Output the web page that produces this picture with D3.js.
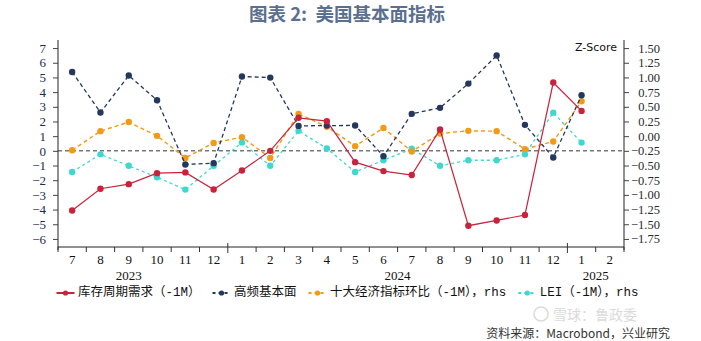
<!DOCTYPE html>
<html><head><meta charset="utf-8">
<script src="https://cdn.jsdelivr.net/npm/d3@7"></script>
<style>
html,body{margin:0;padding:0;background:#fff;}
svg{display:block;}
</style></head>
<body>
<svg id="chart" width="701" height="341"></svg>
<script>
// ---- data ----
const months = ["7","8","9","10","11","12","1","2","3","4","5","6","7","8","9","10","11","12","1","2"];
const years  = ["2023","2023","2023","2023","2023","2023","2024","2024","2024","2024","2024","2024","2024","2024","2024","2024","2024","2024","2025","2025"];
const yearLabels = ["2023","2024","2025"];
const inventoryDemand = [-4.06,-2.58,-2.27,-1.52,-1.47,-2.63,-1.34,0.0,2.25,2.02,-0.77,-1.38,-1.65,1.45,-5.10,-4.74,-4.37,4.65,2.72,null];
const highFreq = [5.37,2.61,5.13,3.45,-0.93,-0.84,5.06,4.99,1.70,1.72,1.73,-0.36,2.52,2.93,4.58,6.49,1.77,-0.45,3.79,null];
const top10MoM = [-0.24,0.085,0.24,0.005,-0.37,-0.115,-0.017,-0.37,0.38,0.16,-0.17,0.14,-0.26,0.045,0.09,0.085,-0.22,-0.09,0.595,null];
const lei = [-0.61,-0.31,-0.505,-0.70,-0.91,-0.505,-0.11,-0.505,0.09,-0.21,-0.61,-0.41,-0.215,-0.505,-0.41,-0.41,-0.31,0.40,-0.11,null];
const leftTicks = [7,6,5,4,3,2,1,0,-1,-2,-3,-4,-5,-6];
const rightTicks = [1.5,1.25,1,0.75,0.5,0.25,0,-0.25,-0.5,-0.75,-1,-1.25,-1.5,-1.75];
const seriesNames = ["库存周期需求（-1M）","高频基本面","十大经济指标环比（-1M），rhs","LEI（-1M），rhs"];
const titleText = "图表 2:  美国基本面指标";
const sourceText = "资料来源：Macrobond，兴业研究";

// ---- layout ----
const svg = d3.select("#chart");
const L = 58, R = 624, T = 40, B = 247;
const idx = months.map((d,i)=>i);
const x = d3.scaleBand().domain(idx).range([L,R]).paddingInner(0).paddingOuter(0);
const yL = d3.scaleLinear().domain([-6.55,7.55]).range([B,T]);
const yR = d3.scaleLinear().domain([-6.55/4-0.25, 7.55/4-0.25]).range([B,T]);
const cx = i => x(i) + x.bandwidth()/2;

const colors = {red:"#c8233c", navy:"#23385c", orange:"#f39a14", cyan:"#3fd8d0"};

// title
svg.append("text").attr("x",347).attr("y",13).attr("text-anchor","middle").attr("dominant-baseline","central")
  .style("white-space","pre")
  .attr("font-family","'Noto Sans CJK SC','Noto Sans',sans-serif").attr("font-weight","bold")
  .attr("font-size",18.5).attr("fill","#5b6f8f").text(titleText);

// left axis
const gL = svg.append("g").attr("transform",`translate(${L},0)`)
  .call(d3.axisLeft(yL).tickValues(leftTicks).tickSize(5).tickPadding(7).tickFormat(d3.format("d")));
gL.select(".domain").attr("d",`M0,${T}V${B+3}`).attr("stroke","#222");
gL.selectAll(".tick line").attr("stroke","#444");
gL.selectAll("text").attr("font-family","'Liberation Serif',serif").attr("font-size",13).attr("fill","#1b2b55");

// right axis
const gR = svg.append("g").attr("transform",`translate(${R},0)`)
  .call(d3.axisRight(yR).tickValues(rightTicks).tickSize(5).tickPadding(7).tickFormat(d3.format(".2f")));
gR.select(".domain").attr("d",`M0,${T}V${B+3}`).attr("stroke","#222");
gR.selectAll(".tick line").attr("stroke","#444");
gR.selectAll("text").attr("font-family","'Liberation Serif',serif").attr("font-size",12.5)
  .attr("fill","#2a2a2a").attr("text-anchor","end").attr("x",36);

// x axis
const gX = svg.append("g");
gX.append("line").attr("x1",L).attr("x2",R).attr("y1",B).attr("y2",B).attr("stroke","#222");
const edges = idx.map(i=>x(i)).concat([R]);
edges.forEach((e,k)=>{
  const isYear = k>0 && k<months.length && years[k]!==years[k-1];
  gX.append("line").attr("x1",e).attr("x2",e)
    .attr("y1",isYear?B-4:B).attr("y2",isYear?B+6:B+5).attr("stroke","#333");
});
gX.selectAll("text.m").data(idx).join("text").attr("class","m")
  .attr("x",i=>cx(i)).attr("y",264).attr("text-anchor","middle")
  .attr("font-family","'Liberation Serif',serif").attr("font-size",13).attr("fill","#111")
  .text(i=>months[i]);
yearLabels.forEach(yv=>{
  const ids = idx.filter(i=>years[i]===yv);
  // 2023 label sits under its 3rd month as in the source; others centred on their year span
  const pos = ids.length===6 ? cx(ids[2]) : (x(ids[0]) + x(ids[ids.length-1]) + x.bandwidth())/2;
  svg.append("text").attr("x",pos).attr("y",280).attr("text-anchor","middle")
    .attr("font-family","'Liberation Serif',serif").attr("font-size",13).attr("fill","#111").text(yv);
});

// zero line
svg.append("line").attr("x1",L).attr("x2",R).attr("y1",yL(0)).attr("y2",yL(0))
  .attr("stroke","#333").attr("stroke-dasharray","4,3");

// Z-Score
svg.append("text").attr("x",617).attr("y",51).attr("text-anchor","end")
  .attr("font-family","'DejaVu Sans',sans-serif").attr("font-size",11).attr("fill","#111").text("Z-Score");

// series
const series = [
  {vals:lei, y:yR, color:colors.cyan, dash:"3,3", w:1.3},
  {vals:top10MoM, y:yR, color:colors.orange, dash:"4,3", w:1.4},
  {vals:highFreq, y:yL, color:colors.navy, dash:"4,3", w:1.3},
  {vals:inventoryDemand, y:yL, color:colors.red, dash:null, w:1.2}
];
series.forEach(s=>{
  const pts = idx.filter(i=>s.vals[i]!=null);
  const line = d3.line().x(i=>cx(i)).y(i=>s.y(s.vals[i]));
  svg.append("path").attr("d",line(pts)).attr("fill","none").attr("stroke",s.color)
    .attr("stroke-width",s.w).attr("stroke-dasharray",s.dash);
  svg.selectAll(null).data(pts).join("circle").attr("cx",i=>cx(i)).attr("cy",i=>s.y(s.vals[i]))
    .attr("r",3.2).attr("fill",s.color);
});

// legend
const legendItems = [
  {name:seriesNames[0], color:colors.red, dash:null},
  {name:seriesNames[1], color:colors.navy, dash:"3,3"},
  {name:seriesNames[2], color:colors.orange, dash:"3,3"},
  {name:seriesNames[3], color:colors.cyan, dash:"3,3"}
];
let lx = 56.5; const ly = 293;
legendItems.forEach(it=>{
  svg.append("line").attr("x1",lx).attr("x2",lx+18).attr("y1",ly).attr("y2",ly)
    .attr("stroke",it.color).attr("stroke-width",2).attr("stroke-dasharray",it.dash);
  svg.append("circle").attr("cx",lx+9).attr("cy",ly).attr("r",2.6).attr("fill",it.color);
  const t = svg.append("text").attr("x",lx+21.5).attr("y",ly).attr("dominant-baseline","central")
    .attr("font-family","'Liberation Mono','Noto Sans CJK SC',monospace").attr("font-size",12.5)
    .attr("fill","#111").text(it.name);
  lx += 21.5 + t.node().getComputedTextLength() + 12;
});

// watermark
const wm = svg.append("g").attr("opacity",0.35);
wm.append("circle").attr("cx",541).attr("cy",314).attr("r",7).attr("fill","none").attr("stroke","#999").attr("stroke-width",1.5);
wm.append("text").attr("x",553).attr("y",314).attr("dominant-baseline","central")
  .attr("font-family","'Noto Sans CJK SC',sans-serif").attr("font-size",14).attr("fill","#999").text("雪球：鲁政委");

// source
svg.append("text").attr("x",670).attr("y",332).attr("text-anchor","end").attr("dominant-baseline","central")
  .attr("font-family","'Noto Sans CJK SC','Noto Sans',sans-serif").attr("font-size",12)
  .attr("fill","#333").text(sourceText);
</script>
</body></html>
